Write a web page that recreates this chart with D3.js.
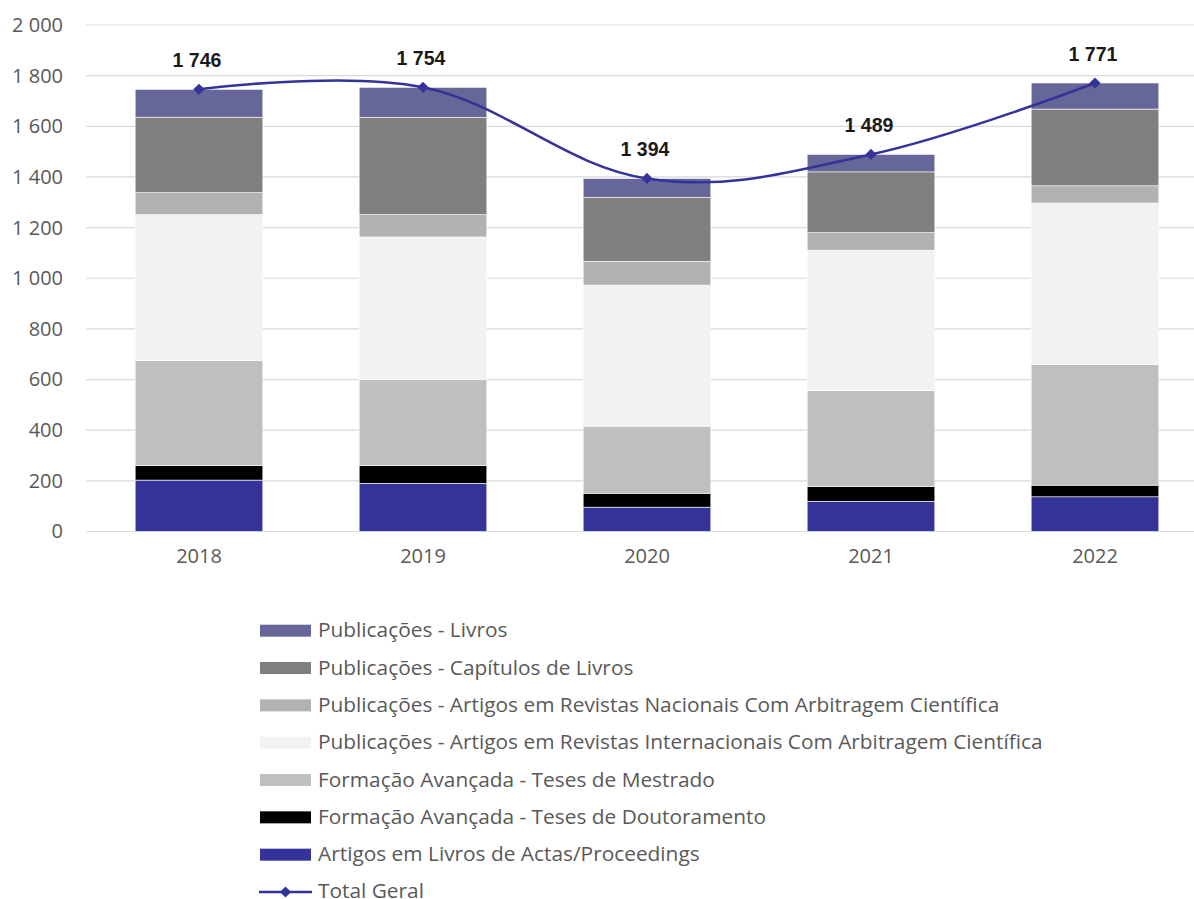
<!DOCTYPE html>
<html>
<head>
<meta charset="utf-8">
<script src="https://cdn.jsdelivr.net/npm/d3@7"></script>
<style>
  html, body { margin: 0; padding: 0; background: #fff; }
  svg { display: block; }
</style>
</head>
<body>
<svg id="chart" width="1194" height="899"></svg>
<script>
// ---------- data ----------
const years = ["2018", "2019", "2020", "2021", "2022"];
const seriesNames = [
  "Artigos em Livros de Actas/Proceedings",
  "Formação Avançada - Teses de Doutoramento",
  "Formação Avançada - Teses de Mestrado",
  "Publicações - Artigos em Revistas Internacionais Com Arbitragem Científica",
  "Publicações - Artigos em Revistas Nacionais Com Arbitragem Científica",
  "Publicações - Capítulos de Livros",
  "Publicações - Livros"
];
const actas        = [203, 190, 96, 119, 137];
const doutoramento = [57, 70, 55, 58, 46];
const mestrado     = [416, 341, 265, 379, 476];
const internac     = [575, 562, 557, 555, 638];
const nacionais    = [87, 88, 94, 69, 68];
const capitulos    = [298, 384, 252, 240, 303];
const livros       = [110, 119, 75, 69, 103];
const totalGeral   = [1746, 1754, 1394, 1489, 1771];
const totalName    = "Total Geral";
const yTicks       = [0, 200, 400, 600, 800, 1000, 1200, 1400, 1600, 1800, 2000];

const seriesValues = [actas, doutoramento, mestrado, internac, nacionais, capitulos, livros];
const seriesColors = ["#333399", "#000000", "#BFBFBF", "#F2F2F2", "#B2B2B2", "#7F7F7F", "#666699"];

// ---------- layout ----------
const svg = d3.select("#chart");
const plotLeft = 87, plotRight = 1207, plotTop = 25, plotBottom = 531.5;
const fmt = v => d3.format(",")(v).replace(/,/g, " ");

const x = d3.scaleBand().domain(years).range([plotLeft, plotRight]).paddingInner(0.43).paddingOuter(0.215);
const y = d3.scaleLinear().domain([0, 2000]).range([plotBottom, plotTop]);

// gridlines
svg.append("g").selectAll("line").data(yTicks).join("line")
  .attr("x1", 86).attr("x2", 1194)
  .attr("y1", d => y(d)).attr("y2", d => y(d))
  .attr("stroke", "#D9D9D9").attr("stroke-width", 1.2);

// y axis labels
const yAxis = d3.axisLeft(y).tickValues(yTicks).tickFormat(fmt).tickSize(0).tickPadding(0);
const yg = svg.append("g").attr("transform", "translate(63,0)").call(yAxis);
yg.select(".domain").remove();
yg.selectAll("text").attr("font-family", "Open Sans").attr("font-size", 20).attr("fill", "#595959");

// x axis labels
const xAxis = d3.axisBottom(x).tickSize(0).tickPadding(0);
const xg = svg.append("g").attr("transform", "translate(0,549)").call(xAxis);
xg.select(".domain").remove();
xg.selectAll("text").attr("font-family", "Open Sans").attr("font-size", 20).attr("fill", "#595959");

// stacked bars
const table = years.map((yr, i) => {
  const row = { year: yr };
  seriesNames.forEach((n, k) => row[n] = seriesValues[k][i]);
  return row;
});
const stacked = d3.stack().keys(seriesNames)(table);
const color = d3.scaleOrdinal().domain(seriesNames).range(seriesColors);

svg.append("g").selectAll("g").data(stacked).join("g")
  .attr("fill", d => color(d.key))
  .selectAll("rect").data(d => d).join("rect")
  .attr("x", d => x(d.data.year))
  .attr("width", x.bandwidth())
  .attr("y", d => y(d[1]))
  .attr("height", d => y(d[0]) - y(d[1]))
  .attr("stroke", "#ffffff").attr("stroke-width", 0.6);

// total line
const cx = yr => x(yr) + x.bandwidth() / 2;
const line = d3.line().x((d, i) => cx(years[i])).y(d => y(d)).curve(d3.curveCardinal.tension(-0.1));
svg.append("path").datum(totalGeral)
  .attr("d", line).attr("fill", "none")
  .attr("stroke", "#333399").attr("stroke-width", 2.5);

const diamond = d3.symbol().type(d3.symbolDiamond2).size(80);
svg.append("g").selectAll("path").data(totalGeral).join("path")
  .attr("d", diamond)
  .attr("transform", (d, i) => `translate(${cx(years[i])},${y(d)})`)
  .attr("fill", "#333399");

svg.append("g").selectAll("text").data(totalGeral).join("text")
  .attr("x", (d, i) => cx(years[i]) - 2)
  .attr("y", d => y(d) - 22)
  .attr("text-anchor", "middle")
  .attr("font-family", "Liberation Sans, Arial, sans-serif")
  .attr("font-weight", "bold")
  .attr("font-size", 19.5)
  .attr("fill", "#1a1a1a")
  .text(d => fmt(d));

// legend
const legendOrder = seriesNames.slice().reverse();
const legY0 = 630.7, legStep = 37.33;
const leg = svg.append("g");
legendOrder.forEach((n, i) => {
  const cy = legY0 + i * legStep;
  leg.append("rect").attr("x", 260).attr("y", cy - 6).attr("width", 51).attr("height", 12)
    .attr("fill", color(n));
  leg.append("text").attr("x", 318).attr("y", cy + 6.5)
    .attr("class", "legtxt")
    .attr("font-family", "Open Sans").attr("font-size", 18.5).attr("fill", "#595959")
    .text(n);
});
const cyT = legY0 + 7 * legStep;
leg.append("line").attr("x1", 259).attr("x2", 312).attr("y1", cyT).attr("y2", cyT)
  .attr("stroke", "#333399").attr("stroke-width", 2.5);
leg.append("path").attr("d", diamond).attr("transform", `translate(285.5,${cyT})`).attr("fill", "#333399");
leg.append("text").attr("x", 318).attr("y", cyT + 6)
  .attr("class", "legtxt")
  .attr("font-family", "Open Sans").attr("font-size", 18.5).attr("fill", "#595959")
  .text(totalName);

// fit legend font so that the longest label spans ~725px as in the reference
const texts = leg.selectAll("text.legtxt");
let maxW = 0;
texts.each(function () { maxW = Math.max(maxW, this.getComputedTextLength()); });
const fs = 18.5 * 725 / maxW;
texts.attr("font-size", fs);
</script>
</body>
</html>
